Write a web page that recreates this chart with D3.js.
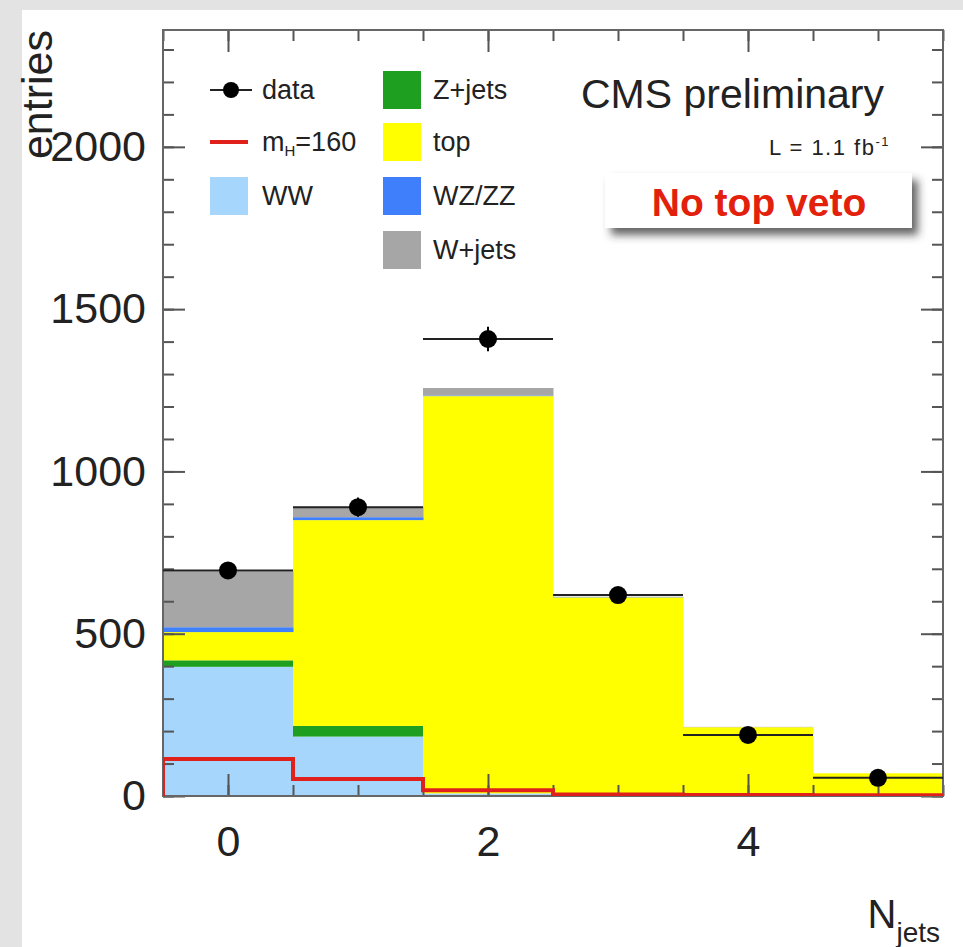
<!DOCTYPE html>
<html>
<head>
<meta charset="utf-8">
<script src="https://cdn.jsdelivr.net/npm/d3@7"></script>
<style>
  body { margin: 0; background: #e3e3e3; overflow: hidden; }
  svg { display: block; }
  text { font-family: "Liberation Sans", Arial, Helvetica, sans-serif; fill: #222; }
</style>
</head>
<body>
<div id="container"></div>
<script>
/* CONSTANTS AND GLOBALS */
const width = 963,
  height = 947,
  margin = { top: 30, bottom: 151, left: 163, right: 20 };

/* DATA */
const nJets = [0, 1, 2, 3, 4, 5];
const ww = [398, 183, 8, 2, 0, 0];
const zJets = [20, 33, 0, 0, 0, 0];
const topQ = [87, 634, 1224, 610, 212, 70];
const wzZZ = [15, 9, 2, 1, 0, 0];
const wJets = [172, 32, 23, 1, 1, 0];
const dataCounts = [695, 890, 1408, 619, 188, 56];
const dataErrors = [26, 30, 38, 25, 14, 8];
const higgs160 = [114, 52, 18, 5, 3, 2];
const yTicks = [0, 500, 1000, 1500, 2000];
const xTicks = [0, 2, 4];

const keys = ["ww", "zJets", "topQ", "wzZZ", "wJets"];
const colors = { ww: "#a6d6fc", zJets: "#1f9f1f", topQ: "#ffff00", wzZZ: "#3f7ffc", wJets: "#a6a6a6" };

const table = nJets.map((n, i) => ({
  n, ww: ww[i], zJets: zJets[i], topQ: topQ[i], wzZZ: wzZZ[i], wJets: wJets[i]
}));

// SCALES
const xScale = d3.scaleLinear()
  .domain([-0.5, 5.5])
  .range([margin.left, width - margin.right]);

const yScale = d3.scaleLinear()
  .domain([0, 2360])
  .range([height - margin.bottom, margin.top]);

// CREATE SVG ELEMENT
const svg = d3.select("#container")
  .append("svg")
  .attr("width", width)
  .attr("height", height);

const defs = svg.append("defs");
defs.append("filter")
  .attr("id", "shadow")
  .attr("x", "-10%").attr("y", "-30%").attr("width", "130%").attr("height", "170%")
  .append("feDropShadow")
    .attr("dx", 6).attr("dy", 7).attr("stdDeviation", 4)
    .attr("flood-color", "#333").attr("flood-opacity", 0.75);
defs.append("clipPath").attr("id", "frame")
  .append("rect")
    .attr("x", margin.left).attr("y", margin.top)
    .attr("width", width - margin.left - margin.right)
    .attr("height", height - margin.top - margin.bottom);

// page background
svg.append("rect")
  .attr("x", 22).attr("y", 10)
  .attr("width", width - 22).attr("height", height - 10)
  .attr("fill", "#fff");

// STACKED HISTOGRAM
const stacked = d3.stack().keys(keys)(table);

svg.append("g")
  .selectAll("g")
  .data(stacked)
  .join("g")
    .attr("fill", d => colors[d.key])
  .selectAll("rect")
  .data(d => d)
  .join("rect")
    .attr("x", d => xScale(d.data.n - 0.5))
    .attr("width", d => xScale(d.data.n + 0.5) - xScale(d.data.n - 0.5) + 0.5)
    .attr("y", d => yScale(d[1]))
    .attr("height", d => yScale(d[0]) - yScale(d[1]));

// AXES (ticks inside the frame, ROOT style)
const axisStyle = g => {
  g.select(".domain").remove();
  g.selectAll(".tick line").attr("stroke", "#555").attr("stroke-width", 2);
};

svg.append("g")
  .attr("transform", `translate(${margin.left},0)`)
  .call(d3.axisLeft(yScale).tickValues(d3.range(0, 2400, 100)).tickSize(-11).tickFormat(""))
  .call(axisStyle);
svg.append("g")
  .attr("class", "axis yAxis")
  .attr("transform", `translate(${margin.left},0)`)
  .call(d3.axisLeft(yScale).tickValues(yTicks).tickSize(-22).tickPadding(17).tickFormat(d3.format("d")))
  .call(axisStyle)
  .call(g => g.selectAll("text").attr("font-size", 43).attr("fill", "#222"));

svg.append("g")
  .attr("transform", `translate(${width - margin.right},0)`)
  .call(d3.axisRight(yScale).tickValues(d3.range(0, 2400, 100)).tickSize(-11).tickFormat(""))
  .call(axisStyle);
svg.append("g")
  .attr("transform", `translate(${width - margin.right},0)`)
  .call(d3.axisRight(yScale).tickValues(yTicks).tickSize(-22).tickFormat(""))
  .call(axisStyle);

svg.append("g")
  .attr("transform", `translate(0,${height - margin.bottom})`)
  .call(d3.axisBottom(xScale).tickValues(d3.range(-0.5, 5.6, 0.5)).tickSize(-11).tickFormat(""))
  .call(axisStyle);
svg.append("g")
  .attr("class", "axis xAxis")
  .attr("transform", `translate(0,${height - margin.bottom})`)
  .call(d3.axisBottom(xScale).tickValues(xTicks).tickSize(-22).tickPadding(29).tickFormat(d3.format("d")))
  .call(axisStyle)
  .call(g => g.selectAll("text").attr("font-size", 43).attr("fill", "#222"));

svg.append("g")
  .attr("transform", `translate(0,${margin.top})`)
  .call(d3.axisTop(xScale).tickValues(d3.range(-0.5, 5.6, 0.5)).tickSize(-11).tickFormat(""))
  .call(axisStyle);
svg.append("g")
  .attr("transform", `translate(0,${margin.top})`)
  .call(d3.axisTop(xScale).tickValues(xTicks).tickSize(-22).tickFormat(""))
  .call(axisStyle);

// frame
svg.append("rect")
  .attr("x", margin.left).attr("y", margin.top)
  .attr("width", width - margin.left - margin.right)
  .attr("height", height - margin.top - margin.bottom)
  .attr("fill", "none")
  .attr("stroke", "#666")
  .attr("stroke-width", 2);

// HIGGS SIGNAL LINE
const higgsPts = [{ x: -0.5, v: 0 }]
  .concat(nJets.map((n, i) => ({ x: n - 0.5, v: higgs160[i] })))
  .concat([{ x: 5.5, v: higgs160[higgs160.length - 1] }]);

svg.append("path")
  .datum(higgsPts)
  .attr("clip-path", "url(#frame)")
  .attr("d", d3.line().curve(d3.curveStepAfter).x(d => xScale(d.x)).y(d => yScale(d.v)))
  .attr("fill", "none")
  .attr("stroke", "#e0201b")
  .attr("stroke-width", 4);

// DATA POINTS
const pts = svg.append("g")
  .selectAll("g")
  .data(nJets.map((n, i) => ({ n, v: dataCounts[i], e: dataErrors[i] })))
  .join("g");

pts.append("line")
  .attr("x1", d => xScale(d.n - 0.5)).attr("x2", d => xScale(d.n + 0.5))
  .attr("y1", d => yScale(d.v)).attr("y2", d => yScale(d.v))
  .attr("stroke", "#222").attr("stroke-width", 2);
pts.append("line")
  .attr("x1", d => xScale(d.n)).attr("x2", d => xScale(d.n))
  .attr("y1", d => yScale(d.v - d.e)).attr("y2", d => yScale(d.v + d.e))
  .attr("stroke", "#000").attr("stroke-width", 2);
pts.append("circle")
  .attr("cx", d => xScale(d.n)).attr("cy", d => yScale(d.v))
  .attr("r", 9)
  .attr("fill", "#000");

// LEGEND
const legendBoxes = [
  { key: "zJets", label: "Z+jets" },
  { key: "topQ", label: "top" },
  { key: "wzZZ", label: "WZ/ZZ" },
  { key: "wJets", label: "W+jets" }
];
const rowY = [90, 142, 196, 250];
const leg = svg.append("g").attr("font-size", 27);

// data entry
leg.append("line").attr("x1", 210).attr("x2", 252).attr("y1", rowY[0]).attr("y2", rowY[0])
  .attr("stroke", "#222").attr("stroke-width", 2);
leg.append("circle").attr("cx", 231).attr("cy", rowY[0]).attr("r", 8).attr("fill", "#000");
leg.append("text").attr("x", 262).attr("y", rowY[0] + 9).attr("font-size", 27).text("data");

// signal entry
leg.append("line").attr("x1", 210).attr("x2", 248).attr("y1", rowY[1]).attr("y2", rowY[1])
  .attr("stroke", "#e0201b").attr("stroke-width", 4);
const mh = leg.append("text").attr("x", 262).attr("y", rowY[1] + 9).attr("font-size", 27);
mh.append("tspan").text("m");
mh.append("tspan").attr("font-size", 15).attr("dy", 5).text("H");
mh.append("tspan").attr("dy", -5).text("=160");

// WW entry
leg.append("rect").attr("x", 210).attr("y", rowY[2] - 19).attr("width", 38).attr("height", 38)
  .attr("fill", colors.ww);
leg.append("text").attr("x", 262).attr("y", rowY[2] + 9).attr("font-size", 27).text("WW");

legendBoxes.forEach((d, i) => {
  leg.append("rect").attr("x", 383).attr("y", rowY[i] - 19).attr("width", 38).attr("height", 38)
    .attr("fill", colors[d.key]);
  leg.append("text").attr("x", 433).attr("y", rowY[i] + 9).attr("font-size", 27).text(d.label);
});

// LABELS
svg.append("text")
  .attr("x", 884).attr("y", 108)
  .attr("text-anchor", "end")
  .attr("font-size", 41)
  .text("CMS preliminary");

const lumi = svg.append("text")
  .attr("x", 890).attr("y", 155)
  .attr("text-anchor", "end")
  .attr("font-size", 22)
  .attr("letter-spacing", 1.5);
lumi.append("tspan").text("L = 1.1 fb");
lumi.append("tspan").attr("font-size", 13).attr("dy", -9).text("-1");

svg.append("rect")
  .attr("x", 605).attr("y", 173)
  .attr("width", 307).attr("height", 55)
  .attr("fill", "#fff")
  .attr("filter", "url(#shadow)");
svg.append("text")
  .attr("x", 759).attr("y", 216)
  .attr("text-anchor", "middle")
  .attr("font-family", "Lato, 'Open Sans', sans-serif")
  .attr("font-weight", 900)
  .attr("font-size", 39)
  .style("fill", "#e3200b")
  .text("No top veto");

svg.append("text")
  .attr("class", "axisLabel")
  .attr("transform", "rotate(-90)")
  .attr("x", -30).attr("y", 52)
  .attr("text-anchor", "end")
  .attr("font-size", 43)
  .text("entries");

const xt = svg.append("text")
  .attr("class", "axisLabel")
  .attr("x", 940).attr("y", 928)
  .attr("text-anchor", "end")
  .attr("font-size", 40);
xt.append("tspan").text("N");
xt.append("tspan").attr("font-size", 28).attr("dy", 14).text("jets");
</script>
</body>
</html>
